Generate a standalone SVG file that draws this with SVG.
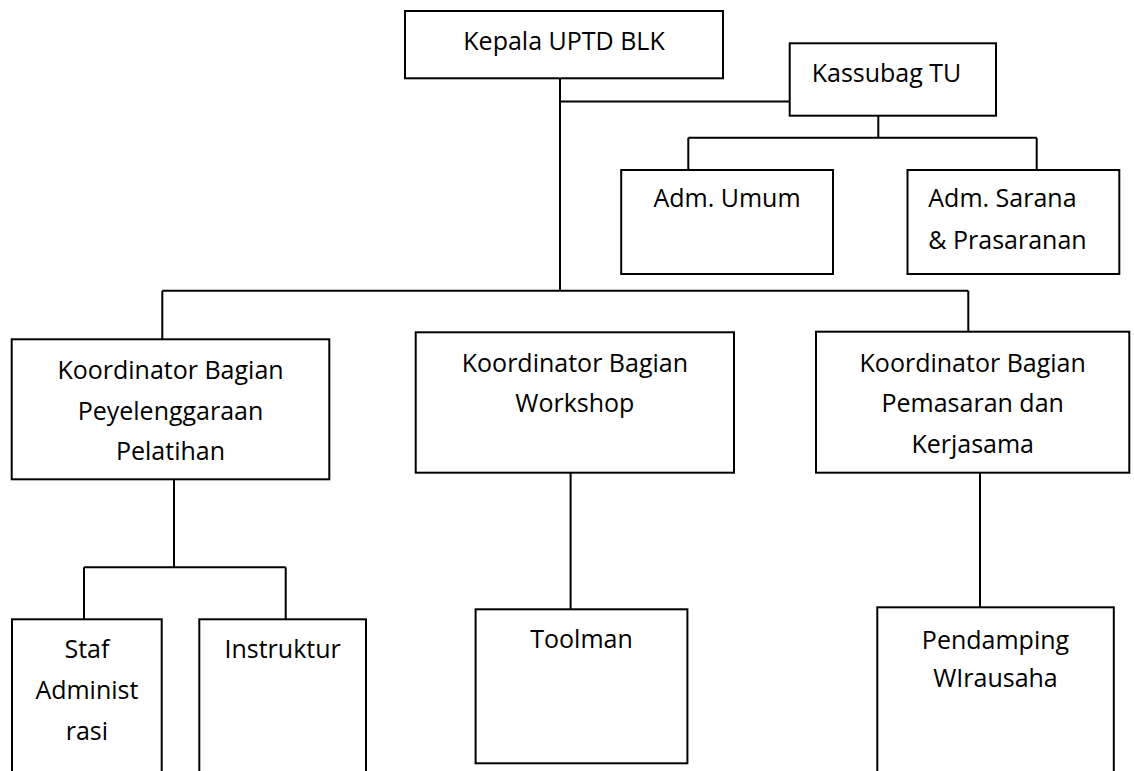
<svg xmlns="http://www.w3.org/2000/svg" width="1134" height="771" viewBox="0 0 1134 771">
<style>
.box{fill:#fff;stroke:#000;stroke-width:2}
.ln{fill:none;stroke:#000;stroke-width:2}
text{font-family:"Open Sans","Liberation Sans",sans-serif;font-size:25px;fill:#000}
.c{text-anchor:middle}
</style>
<rect width="1134" height="771" fill="#fff"/>
<g id="connectors">
<path class="ln" d="M560,78 V291 M560,101.5 H790"/>
<path class="ln" d="M878.3,116 V137.7 M688.3,137.7 H1036.7 M688.3,137.7 V170 M1036.7,137.7 V170"/>
<path class="ln" d="M162.3,290.7 H968.3 M162.3,290.7 V339.3 M968.3,290.7 V331.7"/>
<path class="ln" d="M174,479.3 V567.3 M84,567.3 H285.7 M84,567.3 V619.3 M285.7,567.3 V619.3"/>
<path class="ln" d="M570.6,472.7 V609.3"/>
<path class="ln" d="M980,472.7 V607.3"/>
</g>
<g id="kepala"><rect class="box" x="405" y="11" width="318" height="67.3"/><text class="c" x="564" y="50">Kepala UPTD BLK</text></g>
<g id="kassubag"><rect class="box" x="789.7" y="43.3" width="206.3" height="72.4"/><text x="811.7" y="81.7">Kassubag TU</text></g>
<g id="adm-umum"><rect class="box" x="621.2" y="170" width="211.8" height="104"/><text class="c" x="727" y="207.3">Adm. Umum</text></g>
<g id="adm-sarana"><rect class="box" x="907.5" y="170" width="211.8" height="104"/><text x="928.3" y="207.3">Adm. Sarana</text><text x="928.3" y="249.3">&amp; Prasaranan</text></g>
<g id="koord-pelatihan"><rect class="box" x="11.7" y="339.3" width="317.6" height="140"/><text class="c" x="170.5" y="379.3">Koordinator Bagian</text><text class="c" x="170.5" y="419.5">Peyelenggaraan</text><text class="c" x="170.5" y="459.7">Pelatihan</text></g>
<g id="koord-workshop"><rect class="box" x="415.7" y="332.3" width="318.3" height="140.4"/><text class="c" x="574.9" y="372">Koordinator Bagian</text><text class="c" x="574.9" y="412">Workshop</text></g>
<g id="koord-pemasaran"><rect class="box" x="816" y="331.7" width="313.3" height="141"/><text class="c" x="972.7" y="371.5">Koordinator Bagian</text><text class="c" x="972.7" y="412">Pemasaran dan</text><text class="c" x="972.7" y="452.5">Kerjasama</text></g>
<g id="staf"><rect class="box" x="12" y="619.3" width="149.7" height="170"/><text class="c" x="86.9" y="658.3">Staf</text><text class="c" x="86.9" y="699.3">Administ</text><text class="c" x="86.9" y="740">rasi</text></g>
<g id="instruktur"><rect class="box" x="199.3" y="619.3" width="166.7" height="170"/><text class="c" x="282.6" y="658.3">Instruktur</text></g>
<g id="toolman"><rect class="box" x="475.6" y="609.3" width="211.8" height="154"/><text class="c" x="581.5" y="648.3">Toolman</text></g>
<g id="pendamping"><rect class="box" x="877.3" y="607.3" width="236.5" height="190"/><text class="c" x="995.5" y="649.3">Pendamping</text><text class="c" x="995.5" y="687.3">WIrausaha</text></g>
</svg>
